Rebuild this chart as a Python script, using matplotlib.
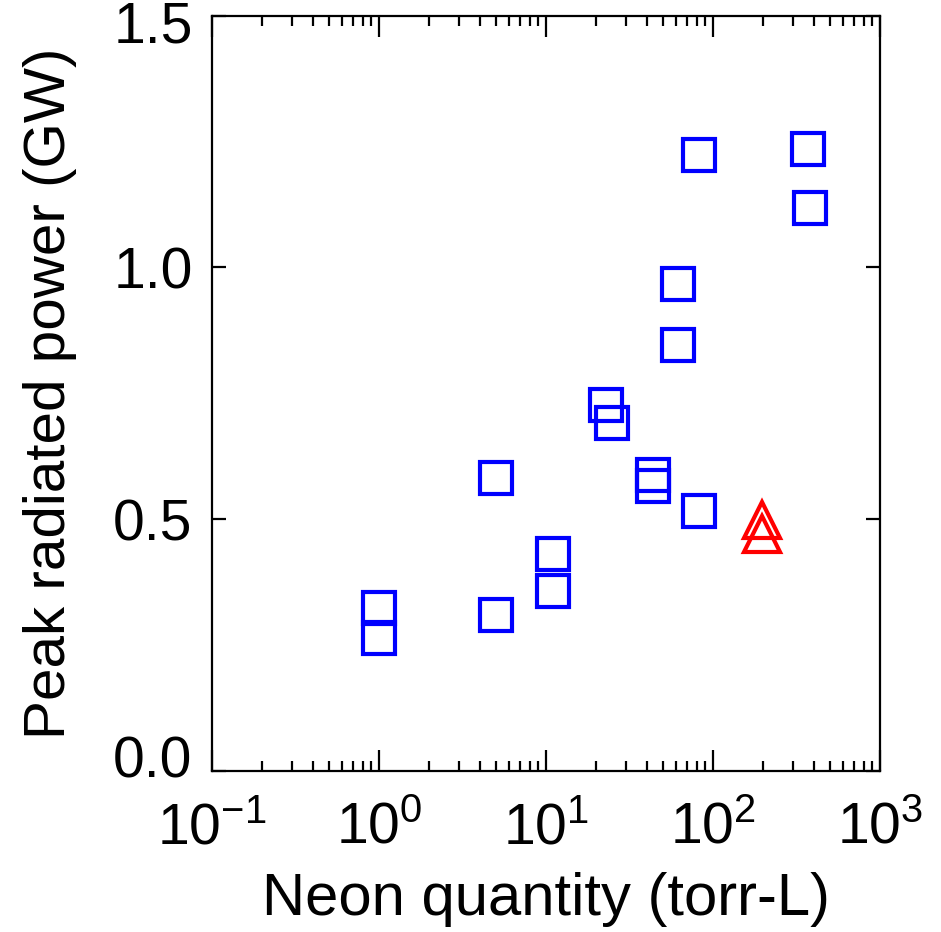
import matplotlib
matplotlib.use("Agg")
import matplotlib.pyplot as plt
import matplotlib.transforms as mtransforms
from matplotlib.ticker import FixedLocator, FixedFormatter, NullFormatter

plt.rcParams['font.family'] = ['Liberation Sans', 'DejaVu Sans']
plt.rcParams['mathtext.fontset'] = 'custom'
plt.rcParams['mathtext.rm'] = 'Liberation Sans'
plt.rcParams['mathtext.it'] = 'Liberation Sans'
plt.rcParams['mathtext.bf'] = 'Liberation Sans'

# Data
neon_squares = [1.0, 1.0, 5.0, 5.0, 11.0, 11.0, 23.0, 25.0, 44.0, 44.0,
                62.0, 62.0, 82.0, 82.0, 372.0, 383.0]
power_squares = [0.323, 0.265, 0.581, 0.310, 0.430, 0.358, 0.726, 0.691,
                 0.587, 0.565, 0.966, 0.846, 1.224, 0.516, 1.235, 1.118]
neon_triangles = [197.0, 197.0]
power_triangles = [0.498, 0.470]

x_ticks = [0.1, 1, 10, 100, 1000]
x_ticklabels = [r'$\mathregular{10^{-1}}$', r'$\mathregular{10^{0}}$',
                r'$\mathregular{10^{1}}$', r'$\mathregular{10^{2}}$',
                r'$\mathregular{10^{3}}$']
y_ticks = [0.0, 0.5, 1.0, 1.5]
y_ticklabels = ['0.0', '0.5', '1.0', '1.5']

fs = 41
fig = plt.figure(figsize=(9.41, 9.32), dpi=100)
ax = fig.add_axes([212/941, 1 - 771/932, (880 - 212)/941, (771 - 15.5)/932])

ax.plot(neon_squares, power_squares, linestyle='none', marker='s',
        markersize=23, markerfacecolor='none', markeredgecolor='#0000ff',
        markeredgewidth=3.0)
ax.plot(neon_triangles, power_triangles, linestyle='none', marker='^',
        markersize=26, markerfacecolor='none', markeredgecolor='#ff0000',
        markeredgewidth=3.0)

ax.set_xscale('log')
ax.set_xlim(0.1, 1000)
ax.set_ylim(0.0, 1.5)

ax.xaxis.set_major_locator(FixedLocator(x_ticks))
ax.xaxis.set_major_formatter(FixedFormatter(x_ticklabels))
minors = [m * 10.0**e for e in range(-1, 3) for m in range(2, 10)]
ax.xaxis.set_minor_locator(FixedLocator(minors))
ax.xaxis.set_minor_formatter(NullFormatter())
ax.yaxis.set_major_locator(FixedLocator(y_ticks))
ax.yaxis.set_major_formatter(FixedFormatter(y_ticklabels))

for s in ax.spines.values():
    s.set_linewidth(1.6)

ax.tick_params(axis='x', which='major', direction='in', top=True, bottom=True,
               length=15, width=1.6, labelsize=fs, pad=22)
ax.tick_params(axis='x', which='minor', direction='in', top=True, bottom=True,
               length=7, width=1.6)
ax.tick_params(axis='y', which='major', direction='in', left=True, right=True,
               length=10, width=1.6, labelsize=fs, pad=14)

ax.set_xlabel('Neon quantity (torr-L)', fontsize=43, labelpad=12)
ax.set_ylabel('Peak radiated power (GW)', fontsize=42, labelpad=26)

# nudge end labels inward like the reference
fig.canvas.draw()
ylabels = ax.get_yticklabels()
ylabels[0].set_transform(ylabels[0].get_transform() +
                         mtransforms.ScaledTranslation(0, 14/100, fig.dpi_scale_trans))
ylabels[-1].set_transform(ylabels[-1].get_transform() +
                          mtransforms.ScaledTranslation(0, -6/100, fig.dpi_scale_trans))

fig.savefig('out.png', dpi=100)
